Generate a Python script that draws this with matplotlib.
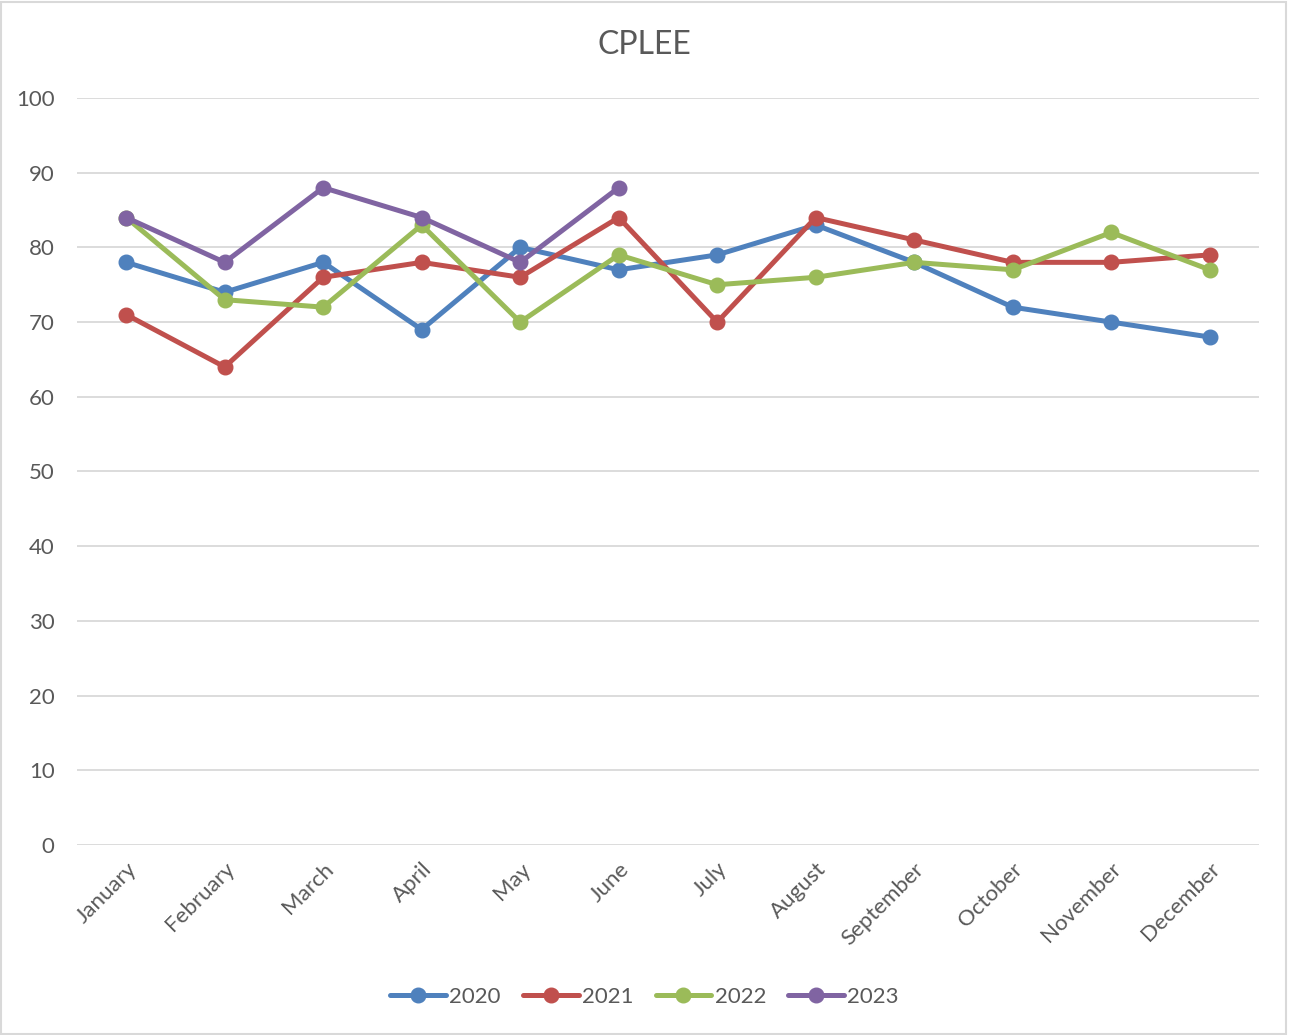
import numpy as np
import matplotlib.pyplot as plt
from matplotlib.patches import Rectangle

plt.rcParams['font.family'] = ['Lato', 'DejaVu Sans']

months = ['January', 'February', 'March', 'April', 'May', 'June', 'July',
          'August', 'September', 'October', 'November', 'December']
y2020 = [78, 74, 78, 69, 80, 77, 79, 83, 78, 72, 70, 68]
y2021 = [71, 64, 76, 78, 76, 84, 70, 84, 81, 78, 78, 79]
y2022 = [84, 73, 72, 83, 70, 79, 75, 76, 78, 77, 82, 77]
y2023 = [84, 78, 88, 84, 78, 88]

series = [('2020', y2020, '#4F81BD'),
          ('2021', y2021, '#C0504D'),
          ('2022', y2022, '#9BBB59'),
          ('2023', y2023, '#8064A2')]

fig = plt.figure(figsize=(12.89, 10.35), dpi=100)
ax = fig.add_axes([0.0597, 0.1836, 0.917, 0.7217])

for name, vals, col in series:
    x = np.arange(len(vals))
    ax.plot(x, vals, color=col, lw=3.6, marker='o', markersize=10.5,
            label=name, solid_capstyle='round', zorder=3)

ax.set_xlim(-0.5, 11.5)
ax.set_ylim(0, 100)
ax.set_yticks(np.arange(0, 101, 10))
ax.set_xticks(np.arange(12))
ax.set_xticklabels(months, rotation=45, ha='right', rotation_mode='anchor')
ax.tick_params(axis='both', length=0, labelsize=16, colors='#595959')
ax.tick_params(axis='y', pad=16)
ax.tick_params(axis='x', pad=10)
ax.grid(axis='y', color='#D9D9D9', lw=1.3)
for s in ax.spines.values():
    s.set_visible(False)

fig.text(0.5, 0.957, 'CPLEE', ha='center', va='center', fontsize=23, color='#595959')

ax.legend(loc='center', ncol=4, frameon=False, fontsize=16, labelcolor='#595959',
          handlelength=2.5, handletextpad=0.15, columnspacing=1.0)
leg = ax.get_legend()
leg.set_bbox_to_anchor((0.5, 1 - 997 / 1035), transform=fig.transFigure)

fig.patches.append(Rectangle((0.001, 0.001), 0.997, 0.997, transform=fig.transFigure,
                             fill=False, edgecolor='#D9D9D9', lw=1.5))

fig.savefig('out.png', dpi=100)
